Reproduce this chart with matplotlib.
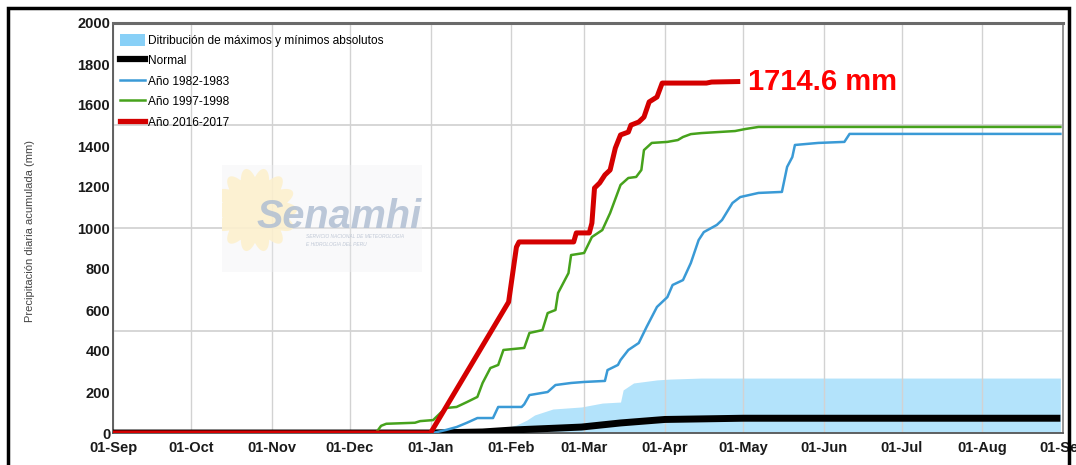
import matplotlib
matplotlib.use("Agg")
import numpy as np
import pandas as pd
import matplotlib.pyplot as plt
import matplotlib.dates as mdates
from matplotlib.patches import Rectangle, Patch, Polygon
from matplotlib.lines import Line2D

# season runs 01-Sep-2016 .. 01-Sep-2017, dates as MM-DD
def to_dates(md):
    out = []
    for s in md:
        m = int(s[:2])
        out.append(pd.Timestamp(f"{2016 if m >= 9 else 2017}-{s}"))
    return out

# distribution of absolute max (upper edge of the band, lower edge is 0)
band_md = ["09-01", "11-16", "11-17", "01-16", "01-28", "02-03", "02-07", "02-10",
           "02-17", "02-28", "03-08", "03-15", "03-16", "03-20", "03-29", "04-03",
           "04-15", "08-31"]
band_max = [0, 0, 12, 12, 20, 39, 63, 88, 117, 127, 146, 151, 210, 244, 259, 263,
            268, 268]

normal_md = ["09-01", "01-01", "01-21", "02-02", "02-19", "02-28", "03-15", "04-01",
             "05-01", "08-31"]
normal_val = [0, 0, 5, 15, 24, 29, 49, 66, 72, 72]

y8283_md = ["09-01", "01-01", "01-03", "01-07", "01-11", "01-15", "01-19", "01-25",
            "01-27", "02-05", "02-06", "02-08", "02-15", "02-18", "02-24", "03-01",
            "03-09", "03-10", "03-14", "03-15", "03-18", "03-22", "03-25", "03-29",
            "04-02", "04-04", "04-08", "04-11", "04-14", "04-16", "04-21", "04-23",
            "04-27", "04-30", "05-07", "05-16", "05-18", "05-20", "05-21", "05-30",
            "06-09", "06-11", "08-31"]
y8283_val = [0, 0, 3, 15, 29, 50, 73, 73, 127, 127, 140, 185, 200, 234, 244, 249,
             254, 307, 332, 356, 405, 439, 517, 615, 663, 722, 746, 829, 941, 980,
             1015, 1039, 1122, 1151, 1171, 1176, 1298, 1346, 1405, 1415, 1420, 1459,
             1459]

y9798_md = ["09-01", "12-11", "12-13", "12-15", "12-26", "12-28", "01-02", "01-05",
            "01-07", "01-11", "01-15", "01-19", "01-21", "01-24", "01-27", "01-29",
            "02-06", "02-08", "02-13", "02-15", "02-18", "02-19", "02-23", "02-24",
            "03-01", "03-04", "03-08", "03-11", "03-15", "03-18", "03-21", "03-23",
            "03-24", "03-27", "04-02", "04-06", "04-08", "04-11", "04-15", "04-28",
            "05-02", "05-07", "08-31"]
y9798_val = [0, 0, 35, 45, 50, 58, 63, 100, 122, 127, 151, 176, 244, 317, 332, 405,
             415, 488, 502, 585, 600, 683, 780, 868, 878, 956, 990, 1073, 1210, 1244,
             1249, 1283, 1380, 1415, 1420, 1429, 1444, 1458, 1463, 1473, 1483, 1493,
             1493]

y1617_md = ["09-01", "01-01", "01-31", "02-03", "02-04", "02-25", "02-26", "03-03",
            "03-04", "03-05", "03-07", "03-09", "03-11", "03-13", "03-15", "03-18",
            "03-19", "03-22", "03-24", "03-26", "03-29", "03-31", "04-17", "04-19",
            "04-30"]
y1617_val = [0, 0, 639, 907, 932, 932, 976, 976, 1024, 1195, 1220, 1259, 1283, 1390,
             1454, 1468, 1502, 1517, 1541, 1615, 1639, 1707, 1707, 1712, 1714.6]

total_label = "1714.6 mm"

plt.rcParams["font.family"] = ["Liberation Sans", "DejaVu Sans"]

fig = plt.figure(figsize=(10.76, 4.65), dpi=100)
ax = fig.add_axes([113/1076, 32/465, 950/1076, 410/465])

ax.fill_between(to_dates(band_md), 0, band_max, color="#b3e3fb", lw=0, zorder=1)
ax.plot(to_dates(normal_md), normal_val, color="black", lw=5, zorder=3,
        solid_capstyle="butt")
ax.plot(to_dates(y8283_md), y8283_val, color="#3a9ad6", lw=1.8, zorder=4)
ax.plot(to_dates(y9798_md), y9798_val, color="#46a21c", lw=1.8, zorder=5)
ax.plot(to_dates(y1617_md), y1617_val, color="#d40000", lw=3.6, zorder=6,
        solid_capstyle="butt")

last = to_dates(y1617_md)[-1]
ax.text(last + pd.Timedelta(days=3), y1617_val[-1], total_label, color="#ff0000",
        fontsize=21, fontweight="bold", va="center", ha="left", zorder=7)

ax.set_xlim(pd.Timestamp("2016-09-01"), pd.Timestamp("2017-09-01"))
ax.set_ylim(0, 2000)
ax.xaxis.set_major_locator(mdates.MonthLocator())
ax.xaxis.set_major_formatter(mdates.DateFormatter("%d-%b"))
ax.set_yticks(np.arange(0, 2001, 200))
ax.grid(axis="x", color="#d2d2d2", lw=1)
for yv in (500, 1000, 1500):
    ax.axhline(yv, color="#cfcfcf", lw=1.2, zorder=0.5)
ax.tick_params(length=0, labelsize=10.5, labelcolor="#1a1a1a")
ax.tick_params(axis="x", pad=6)
ax.tick_params(axis="y", pad=2)
for lab in ax.get_xticklabels() + ax.get_yticklabels():
    lab.set_fontweight("bold")
for side, s in ax.spines.items():
    s.set_color("#555555")
    s.set_linewidth(1.3)
ax.spines["top"].set_linewidth(2.2)
ax.spines["top"].set_color("#6a6a6a")
ax.spines["right"].set_color("#8a8a8a")

fig.text(30/1076, 1 - 231/465, "Precipitación diaria acumulada (mm)", rotation=90,
         ha="center", va="center", fontsize=8, color="#444444")

handles = [Patch(facecolor="#88d0f7", edgecolor="none"),
           Line2D([], [], color="black", lw=4.5),
           Line2D([], [], color="#3a9ad6", lw=1.8),
           Line2D([], [], color="#46a21c", lw=1.8),
           Line2D([], [], color="#d40000", lw=3.8)]
labels = ["Ditribución de máximos y mínimos absolutos", "Normal", "Año 1982-1983",
          "Año 1997-1998", "Año 2016-2017"]
leg = ax.legend(handles, labels, loc="upper left", bbox_to_anchor=(0.0, 0.99),
                frameon=False, fontsize=8.6, handlelength=2.1, handleheight=1.2,
                handletextpad=0.25, labelspacing=0.62, borderaxespad=0.25,
                borderpad=0.3)
leg.set_zorder(8)

# faint Senamhi watermark
lg = fig.add_axes([222/1076, (465-272)/465, 200/1076, 107/465])
lg.set_xlim(0, 200)
lg.set_ylim(0, 107)
lg.axis("off")
lg.patch.set_alpha(0)
lg.add_patch(Rectangle((0, 0), 200, 107, color="#eef0f3", alpha=0.35, lw=0))
th = np.linspace(0, 2*np.pi, 400)
r = 42 * (0.78 + 0.22*np.abs(np.cos(7*th)))
lg.add_patch(Polygon(np.c_[33 + r*np.cos(th), 62 + r*np.sin(th)], closed=True,
                     color="#fdf0cc", alpha=0.85, lw=0))
lg.text(35, 44, "Senamhi", fontsize=28.5, fontweight="bold", style="italic",
        color="#b0bfd3", alpha=0.85)
lg.text(84, 34, "SERVICIO NACIONAL DE METEOROLOGIA", fontsize=3.5, color="#c0c8d6",
        style="italic")
lg.text(84, 26, "E HIDROLOGIA DEL PERU", fontsize=3.5, color="#c0c8d6",
        style="italic")

# outer black frame of the screenshot
fig.add_artist(Rectangle((8/1076, -0.05), 1061/1076, 1.05 - 8/465, fill=False,
                         ec="black", lw=2.5, transform=fig.transFigure, clip_on=False))

fig.savefig("out.png", dpi=100)
